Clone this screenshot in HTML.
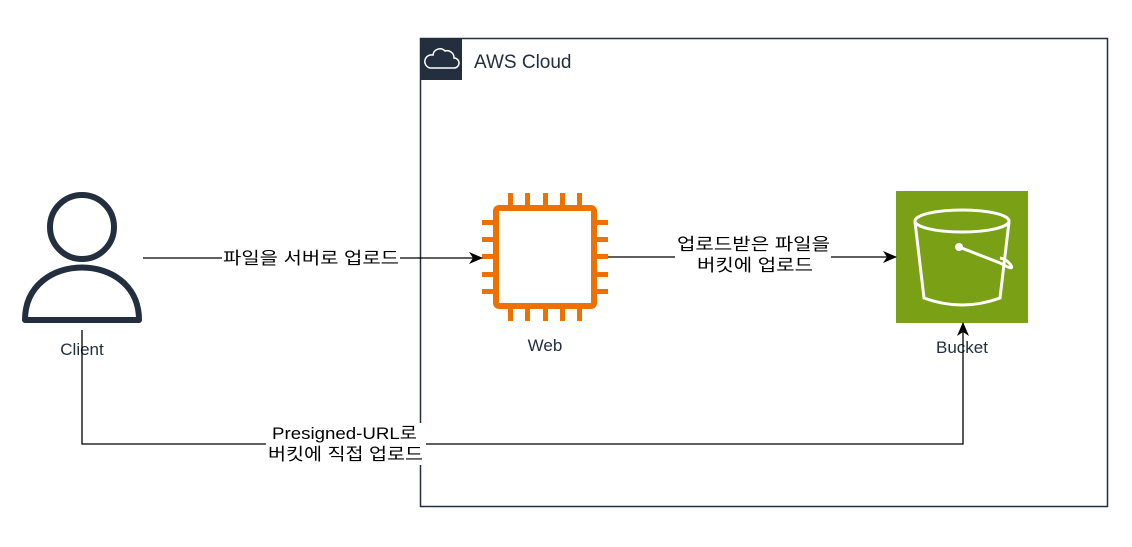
<!DOCTYPE html>
<html><head><meta charset="utf-8"><style>
body{margin:0;background:#fff;}
svg text{font-family:"Liberation Sans","Noto Sans CJK KR",sans-serif;}
</style></head><body>
<svg width="1132" height="542" viewBox="0 0 1132 542" xmlns="http://www.w3.org/2000/svg">
<defs><marker id="a" markerWidth="14" markerHeight="14" refX="13" refY="6" orient="auto" markerUnits="userSpaceOnUse"><path d="M0,0 L14,6 L0,12 L4,6 Z" fill="#000"/></marker></defs>
<rect x="420.5" y="38.5" width="687" height="468" fill="none" stroke="#232f3e" stroke-width="1.5"/>
<rect x="420" y="38" width="42" height="42" fill="#232f3e"/>
<path d="M430,68 h24 a5,5 0 0 0 0,-10 a7,7 0 0 0 -9,-7 a7,7 0 0 0 -12,4 a6,6 0 0 0 -3,13z" fill="none" stroke="#fff" stroke-width="1.5"/>
<text x="474" y="68" font-size="19" fill="#232f3e">AWS Cloud</text>
<!-- client -->
<circle cx="82" cy="227" r="32" fill="none" stroke="#232f3e" stroke-width="6"/>
<path d="M25,320 C25,250 139,250 139,320 Z" fill="none" stroke="#232f3e" stroke-width="6" stroke-linejoin="round"/>
<text x="82" y="355" font-size="17" fill="#232f3e" text-anchor="middle">Client</text>
<!-- web -->
<g fill="#ed7100">
<rect x="496" y="208" width="98" height="98" rx="3" fill="none" stroke="#ed7100" stroke-width="6"/>
<rect x="508" y="193" width="5" height="15"/><rect x="525" y="193" width="5" height="15"/><rect x="543" y="193" width="5" height="15"/><rect x="560" y="193" width="5" height="15"/><rect x="577" y="193" width="5" height="15"/>
<g transform="translate(0,113)"><rect x="508" y="193" width="5" height="15"/><rect x="525" y="193" width="5" height="15"/><rect x="543" y="193" width="5" height="15"/><rect x="560" y="193" width="5" height="15"/><rect x="577" y="193" width="5" height="15"/></g>
<rect x="482" y="220" width="14" height="5"/><rect x="482" y="237" width="14" height="5"/><rect x="482" y="254" width="14" height="5"/><rect x="482" y="272" width="14" height="5"/><rect x="482" y="289" width="14" height="5"/>
<rect x="594" y="220" width="14" height="5"/><rect x="594" y="237" width="14" height="5"/><rect x="594" y="254" width="14" height="5"/><rect x="594" y="272" width="14" height="5"/><rect x="594" y="289" width="14" height="5"/>
</g>
<text x="545" y="351" font-size="17" fill="#232f3e" text-anchor="middle">Web</text>
<!-- bucket -->
<rect x="896" y="191" width="132" height="132" fill="#7aa116"/>
<g fill="none" stroke="#fff" stroke-width="3">
<ellipse cx="962" cy="221" rx="47" ry="11"/>
<path d="M915,222 L924,298 Q962,312 1000,298 L1009,222"/>
<path d="M959,247 L1000,263 Q1016,272 1010,264 Q1006,259 1000,258"/>
</g>
<circle cx="959" cy="247" r="4" fill="#fff"/>
<text x="962" y="353" font-size="17" fill="#232f3e" text-anchor="middle">Bucket</text>
<!-- connectors -->
<line x1="143" y1="258" x2="482" y2="258" stroke="#000" stroke-width="1.3" marker-end="url(#a)"/>
<line x1="608" y1="257" x2="896" y2="257" stroke="#000" stroke-width="1.3" marker-end="url(#a)"/>
<polyline points="82,330 82,444 963,444 963,323" fill="none" stroke="#000" stroke-width="1.3" marker-end="url(#a)"/>
<rect x="222" y="249" width="178" height="18" fill="#fff"/>
<text x="223" y="264" font-size="17" textLength="176" lengthAdjust="spacingAndGlyphs">파일을 서버로 업로드</text>
<rect x="675" y="233" width="156" height="42" fill="#fff"/>
<text x="677" y="250" font-size="17" textLength="153" lengthAdjust="spacingAndGlyphs">업로드받은 파일을</text>
<text x="697" y="271" font-size="17" textLength="116" lengthAdjust="spacingAndGlyphs">버킷에 업로드</text>
<rect x="266" y="423" width="160" height="42" fill="#fff"/>
<text x="272" y="439" font-size="17" textLength="145" lengthAdjust="spacingAndGlyphs">Presigned-URL로</text>
<text x="268" y="460" font-size="17" textLength="155" lengthAdjust="spacingAndGlyphs">버킷에 직접 업로드</text>
</svg>
</body></html>
